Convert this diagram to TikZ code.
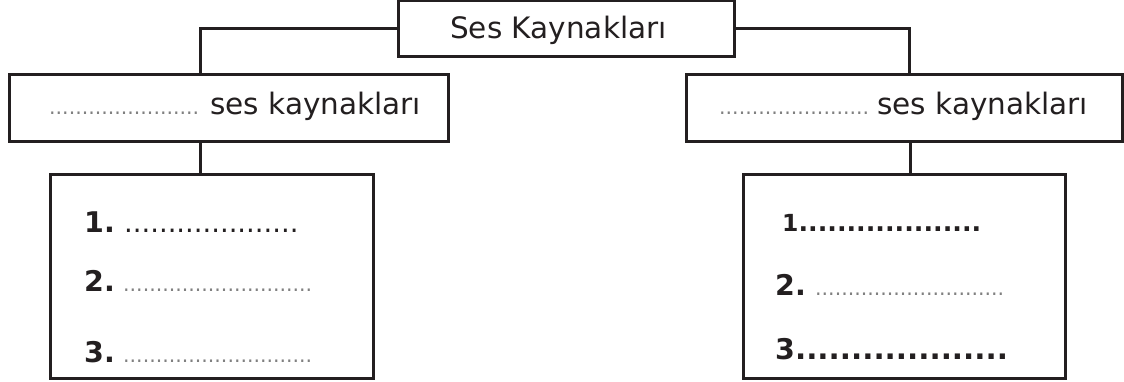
\documentclass[tikz,border=0pt]{standalone}
\usepackage{fontspec}
\setmainfont{DejaVu Sans}
\definecolor{ink}{HTML}{231F20}
\definecolor{dotgray}{HTML}{808080}
\begin{document}
\begin{tikzpicture}[x=1pt,y=-1pt,
  box/.style={draw=ink, line width=3pt, rectangle, inner sep=0pt},
  link/.style={draw=ink, line width=3pt},
  txt/.style={inner sep=0pt, anchor=base west, text=ink},
  gdots/.style={txt, text=dotgray, font=\fontsize{20.5}{22}\selectfont},
  num/.style={txt, font=\bfseries\fontsize{28.5}{30}\selectfont}]
\useasboundingbox (0,0) rectangle (1124,382);
% boxes
\node[box, minimum width=336pt, minimum height=56pt] (top) at (566,29) {};
\node[box, minimum width=439pt, minimum height=67pt] (lbox) at (228.5,108.5) {};
\node[box, minimum width=436pt, minimum height=67pt] (rbox) at (904,108.5) {};
\node[box, minimum width=323pt, minimum height=203pt] (llist) at (211.5,276.5) {};
\node[box, minimum width=322pt, minimum height=203pt] (rlist) at (904,276.5) {};
% connectors
\draw[link] (top.west) -| ([xshift=-28.5pt]lbox.north);
\draw[link] (top.east) -| ([xshift=5pt]rbox.north);
\draw[link] ([xshift=-28.5pt]lbox.south) -- ([xshift=-28.5pt]lbox.south |- llist.north);
\draw[link] ([xshift=6pt]rbox.south) -- ([xshift=6pt]rbox.south |- rlist.north);
% texts
\node[txt, font=\fontsize{29.5}{31}\selectfont] (title) at (450,39) {Ses Kaynakları};
\node[gdots] (ldots) at (49,115) {.......................};
\node[txt, font=\fontsize{29.5}{31}\selectfont] (ltext) at (210,115) {ses kaynakları};
\node[gdots] (rdots) at (719,115) {.......................};
\node[txt, font=\fontsize{29.5}{31}\selectfont] (rtext) at (877,115) {ses kaynakları};
% left list
\node[num] (l1) at (84,233) {1.};
\node[txt, font=\fontsize{27.4}{30}\selectfont] (l1d) at (124,233) {....................};
\node[num] (l2) at (84,291) {2.};
\node[gdots] (l2d) at (123,291) {.............................};
\node[num] (l3) at (84,362) {3.};
\node[gdots] (l3d) at (123,362) {.............................};
% right list
\node[txt, font=\bfseries\fontsize{23.5}{26}\selectfont] (r1) at (782,231) {1{\fontsize{25.3}{26}\selectfont...................}};
\node[num] (r2) at (775,295) {2.};
\node[gdots] (r2d) at (815,295) {.............................};
\node[num] (r3) at (775,359) {3{\fontsize{29.5}{30}\selectfont...................}};
\end{tikzpicture}
\end{document}
